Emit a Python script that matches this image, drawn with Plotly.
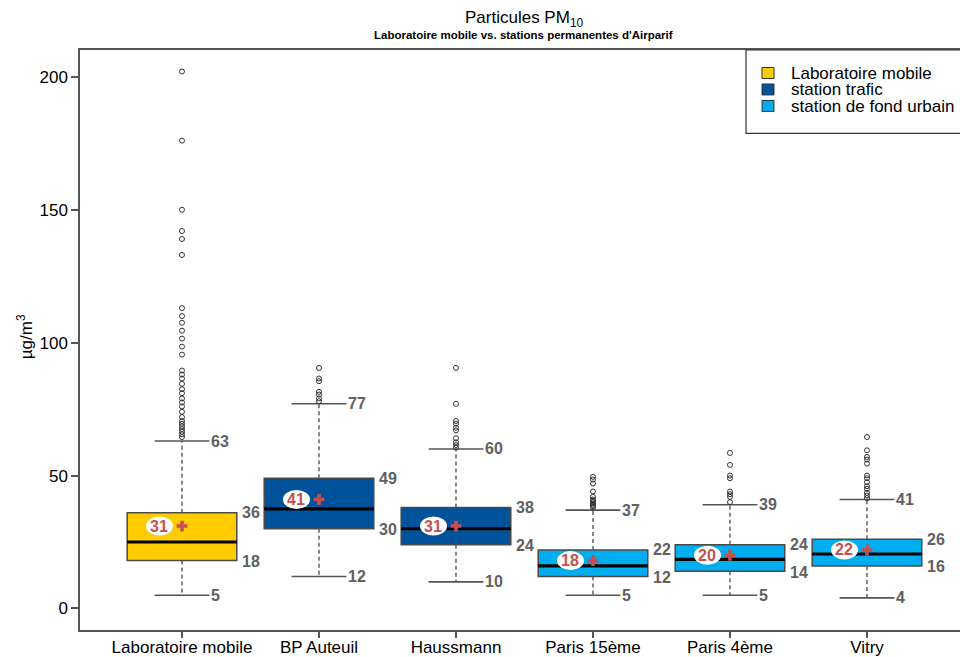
import plotly.graph_objects as go

# ---------------- data ----------------
categories = ["Laboratoire mobile", "BP Auteuil", "Haussmann", "Paris 15ème", "Paris 4ème", "Vitry"]
groups = ["Laboratoire mobile", "station trafic", "station trafic",
          "station de fond urbain", "station de fond urbain", "station de fond urbain"]
group_names = ["Laboratoire mobile", "station trafic", "station de fond urbain"]
group_colors = {"Laboratoire mobile": "#FFCC00",
                "station trafic": "#00539B",
                "station de fond urbain": "#00AEEF"}

q1 = [18, 30, 24, 12, 14, 16]
q3 = [36, 49, 38, 22, 24, 26]
median = [25, 37.5, 30, 16, 18.5, 20.5]
lower = [5, 12, 10, 5, 5, 4]
upper = [63, 77, 60, 37, 39, 41]
mean = [31, 41, 31, 18, 20, 22]

outliers = [
    [64.5, 65.5, 66.5, 67.5, 68.5, 69.5, 70.5, 72, 74, 76, 77.5, 79, 81, 82.5, 84.5,
     86.5, 88, 89.5, 95.5, 98.5, 101.5, 104.5, 107.5, 110, 113, 133, 139, 142, 150, 176, 202],
    [78, 79, 80.5, 81.5, 85.5, 86.5, 90.5],
    [60.5, 61.5, 62.5, 64, 67, 68, 69.5, 70.5, 77, 90.5],
    [38, 38.5, 39, 39.5, 40, 40.5, 41, 42, 44, 47, 48.5, 49.5],
    [40, 42, 43, 44, 49, 50, 54, 58.5],
    [41.5, 42.5, 43.5, 45, 46, 47.5, 49, 50, 54.5, 56, 57, 59.5, 64.5],
]

yticks = [0, 50, 100, 150, 200]

# ---------------- layout helpers ----------------
W, H = 960, 657
L, R, T, B = 80, 960, 49.5, 630
FONT = "Liberation Sans, Arial, sans-serif"
GRAY = "#555555"
NUMCOL = "#606060"
RED = "#C55050"


def px(xp):
    return (xp - L) / (R - L)


def py(yp):
    return (B - yp) / (B - T)


pos = list(range(1, len(categories) + 1))
BOXW = 0.8
CAPW = 0.4

fig = go.Figure()

# whiskers (dashed)
wx, wy = [], []
for i, p in enumerate(pos):
    wx += [p, p, None, p, p, None]
    wy += [q3[i], upper[i], None, q1[i], lower[i], None]
fig.add_trace(go.Scatter(x=wx, y=wy, mode="lines", hoverinfo="skip",
                         line=dict(color=GRAY, width=1.4, dash="4px,3px"), showlegend=False))

# boxes
for g in group_names:
    idx = [i for i, gg in enumerate(groups) if gg == g]
    fig.add_trace(go.Bar(
        x=[pos[i] for i in idx],
        base=[q1[i] for i in idx],
        y=[q3[i] - q1[i] for i in idx],
        width=BOXW,
        marker=dict(color=group_colors[g], line=dict(color="#4a4a4a", width=1.5)),
        name=g, showlegend=False, hoverinfo="skip"))

# medians
mx, my = [], []
for i, p in enumerate(pos):
    mx += [p - BOXW / 2, p + BOXW / 2, None]
    my += [median[i], median[i], None]
fig.add_trace(go.Scatter(x=mx, y=my, mode="lines", hoverinfo="skip",
                         line=dict(color="black", width=3.2), showlegend=False))

# caps
cx, cy = [], []
for i, p in enumerate(pos):
    cx += [p - CAPW / 2, p + CAPW / 2, None, p - CAPW / 2, p + CAPW / 2, None]
    cy += [upper[i], upper[i], None, lower[i], lower[i], None]
fig.add_trace(go.Scatter(x=cx, y=cy, mode="lines", hoverinfo="skip",
                         line=dict(color=GRAY, width=1.6), showlegend=False))

# outliers
ox, oy = [], []
for i, p in enumerate(pos):
    ox += [p] * len(outliers[i])
    oy += outliers[i]
fig.add_trace(go.Scatter(x=ox, y=oy, mode="markers", hoverinfo="skip",
                         marker=dict(symbol="circle-open", size=5, color="#333333",
                                     line=dict(width=1)), showlegend=False))

# mean crosses
fig.add_trace(go.Scatter(x=pos, y=mean, mode="markers", hoverinfo="skip",
                         marker=dict(symbol="cross", size=9, color=RED,
                                     line=dict(width=0)), showlegend=False))

shapes = []
annotations = []

numfont = dict(family=FONT, size=16, color=NUMCOL)
for i, p in enumerate(pos):
    annotations.append(dict(x=p + BOXW / 2, y=q3[i], xref="x", yref="y", text=f"<b>{q3[i]}</b>",
                            showarrow=False, xanchor="left", yanchor="middle", xshift=3, font=numfont))
    annotations.append(dict(x=p + BOXW / 2, y=q1[i], xref="x", yref="y", text=f"<b>{q1[i]}</b>",
                            showarrow=False, xanchor="left", yanchor="middle", xshift=3, yshift=-1,
                            font=numfont))
    annotations.append(dict(x=p + CAPW / 2, y=upper[i], xref="x", yref="y", text=f"<b>{upper[i]}</b>",
                            showarrow=False, xanchor="left", yanchor="middle", xshift=0, font=numfont))
    annotations.append(dict(x=p + CAPW / 2, y=lower[i], xref="x", yref="y", text=f"<b>{lower[i]}</b>",
                            showarrow=False, xanchor="left", yanchor="middle", xshift=0, font=numfont))
    # mean label with white rounded background
    shapes.append(dict(type="circle", xref="x", yref="y", xsizemode="pixel", ysizemode="pixel",
                       xanchor=p, yanchor=mean[i], x0=-36, x1=-9, y0=-9.5, y1=9.5,
                       fillcolor="white", line=dict(width=0), layer="above"))
    annotations.append(dict(x=p, y=mean[i], xref="x", yref="y", text=f"<b>{mean[i]}</b>",
                            showarrow=False, xanchor="center", yanchor="middle", xshift=-22.5,
                            font=dict(family=FONT, size=16, color=RED)))

# legend (drawn manually)
shapes.append(dict(type="rect", xref="paper", yref="paper", x0=px(746), x1=px(990),
                   y0=py(133), y1=py(49.5), fillcolor="white",
                   line=dict(color="#333333", width=1.2), layer="above"))
rows = [72.5, 89, 105.5]
for g, rc in zip(group_names, rows):
    shapes.append(dict(type="rect", xref="paper", yref="paper", x0=px(762), x1=px(774),
                       y0=py(rc + 5.5), y1=py(rc - 5.5), fillcolor=group_colors[g],
                       line=dict(color="#333333", width=1), layer="above"))
    annotations.append(dict(x=px(790), y=py(rc), xref="paper", yref="paper", text=g,
                            showarrow=False, xanchor="left", yanchor="middle",
                            height=16, valign="middle", borderpad=0,
                            font=dict(family=FONT, size=17, color="black")))

# titles
annotations.append(dict(x=px(523.5), y=py(18), xref="paper", yref="paper",
                        text="Particules PM<sub>10</sub>", showarrow=False,
                        xanchor="center", yanchor="middle",
                        font=dict(family=FONT, size=17, color="black")))
annotations.append(dict(x=px(523.5), y=py(34.5), xref="paper", yref="paper",
                        text="<b>Laboratoire mobile vs. stations permanentes d'Airparif</b>",
                        showarrow=False, xanchor="center", yanchor="middle",
                        font=dict(family=FONT, size=11.5, color="black")))
annotations.append(dict(x=px(25), y=py(337), xref="paper", yref="paper",
                        text="µg/m<sup>3</sup>", showarrow=False, textangle=-90,
                        xanchor="center", yanchor="middle",
                        font=dict(family=FONT, size=17, color="black")))

fig.update_layout(
    width=W, height=H,
    margin=dict(l=L, r=W - R, t=T, b=H - B, pad=0, autoexpand=False),
    paper_bgcolor="white", plot_bgcolor="white",
    barmode="overlay", showlegend=False,
    shapes=shapes, annotations=annotations,
    font=dict(family=FONT, color="black"),
    xaxis=dict(range=[0.2555, 6.679], tickvals=pos, ticktext=categories,
               ticks="outside", ticklen=6, tickwidth=1.5, tickcolor=GRAY,
               showline=True, linecolor=GRAY, linewidth=1.5, mirror=True,
               showgrid=False, zeroline=False, automargin=False,
               ticklabelstandoff=-5,
               tickfont=dict(family=FONT, size=17, color="black")),
    yaxis=dict(range=[-8.1, 210.1], tickvals=yticks,
               ticks="outside", ticklen=7, tickwidth=1.5, tickcolor=GRAY,
               showline=True, linecolor=GRAY, linewidth=1.5, mirror=False,
               showgrid=False, zeroline=False, automargin=False,
               tickfont=dict(family=FONT, size=17, color="black")),
)

fig.write_html("out.html")
